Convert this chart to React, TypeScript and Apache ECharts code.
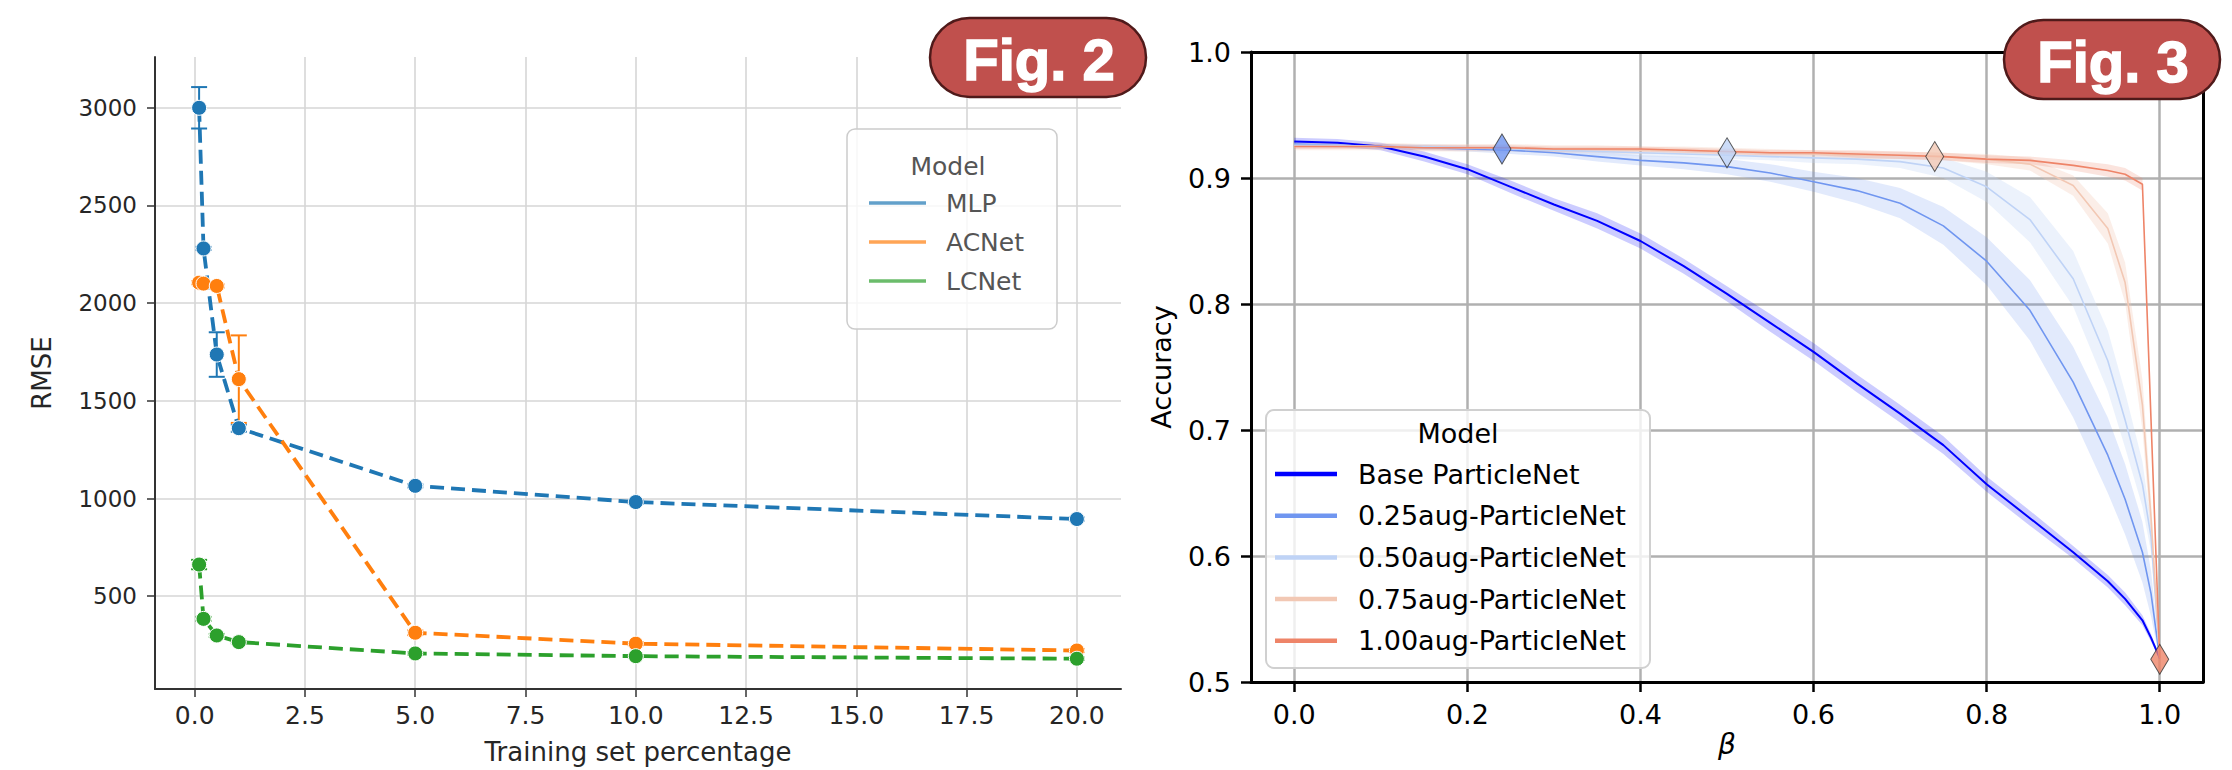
import React, { useEffect, useRef } from 'react';
import * as echarts from 'echarts';

// ---------------- Fig. 2 data ----------------
const trainPct = [0.1, 0.2, 0.5, 1, 5, 10, 20];
const mlpRmse = [3000, 2280, 1737, 1360, 1065, 982, 895];
const mlpErr = [106, 8, 114, 18, 8, 8, 8];
const acnetRmse = [2105, 2100, 2088, 1611, 313, 257, 222];
const acnetErr = [8, 8, 8, 224, 12, 8, 8];
const lcnetRmse = [662, 384, 299, 265, 207, 193, 180];
const lcnetErr = [24, 10, 8, 6, 6, 6, 6];
const rmseTicks = [500, 1000, 1500, 2000, 2500, 3000];
const pctTicks = [0, 2.5, 5, 7.5, 10, 12.5, 15, 17.5, 20];
const fig2Names = ['MLP', 'ACNet', 'LCNet'];

// ---------------- Fig. 3 data ----------------
const beta = [0, 0.05, 0.1, 0.15, 0.2, 0.25, 0.3, 0.35, 0.4, 0.45, 0.5, 0.55, 0.6, 0.65, 0.7, 0.75, 0.8, 0.85, 0.9, 0.94, 0.96, 0.98, 0.99, 1.0];
const baseAcc = [0.929, 0.928, 0.925, 0.917, 0.907, 0.893, 0.879, 0.866, 0.850, 0.830, 0.808, 0.785, 0.762, 0.737, 0.713, 0.688, 0.657, 0.630, 0.603, 0.580, 0.566, 0.549, 0.535, 0.519];
const baseBand = [0.003, 0.003, 0.003, 0.004, 0.004, 0.005, 0.005, 0.006, 0.006, 0.006, 0.006, 0.007, 0.007, 0.007, 0.007, 0.007, 0.006, 0.006, 0.005, 0.005, 0.005, 0.004, 0.003, 0.001];
const aug25Acc = [0.927, 0.926, 0.925, 0.924, 0.923, 0.922, 0.920, 0.917, 0.914, 0.912, 0.909, 0.904, 0.897, 0.890, 0.880, 0.862, 0.834, 0.795, 0.738, 0.680, 0.645, 0.603, 0.570, 0.519];
const aug25Band = [0.002, 0.002, 0.002, 0.002, 0.002, 0.003, 0.003, 0.004, 0.004, 0.005, 0.006, 0.007, 0.008, 0.010, 0.012, 0.015, 0.019, 0.024, 0.028, 0.030, 0.028, 0.024, 0.018, 0.002];
const aug50Acc = [0.926, 0.926, 0.925, 0.925, 0.924, 0.923, 0.922, 0.921, 0.920, 0.919, 0.918, 0.917, 0.916, 0.915, 0.913, 0.908, 0.893, 0.867, 0.820, 0.755, 0.708, 0.657, 0.615, 0.519];
const aug50Band = [0.002, 0.002, 0.002, 0.002, 0.002, 0.002, 0.002, 0.003, 0.003, 0.003, 0.003, 0.003, 0.004, 0.004, 0.005, 0.008, 0.012, 0.018, 0.022, 0.024, 0.022, 0.018, 0.012, 0.002];
const aug75Acc = [0.925, 0.925, 0.925, 0.924, 0.924, 0.924, 0.923, 0.923, 0.922, 0.922, 0.921, 0.920, 0.919, 0.918, 0.918, 0.917, 0.915, 0.911, 0.894, 0.860, 0.817, 0.720, 0.630, 0.519];
const aug75Band = [0.003, 0.003, 0.003, 0.003, 0.003, 0.003, 0.003, 0.003, 0.003, 0.003, 0.003, 0.003, 0.003, 0.003, 0.003, 0.003, 0.004, 0.005, 0.008, 0.012, 0.016, 0.020, 0.015, 0.002];
const aug100Acc = [0.925, 0.925, 0.925, 0.924, 0.924, 0.924, 0.923, 0.923, 0.923, 0.922, 0.921, 0.920, 0.920, 0.919, 0.918, 0.917, 0.915, 0.914, 0.910, 0.906, 0.903, 0.895, 0.707, 0.519];
const aug100Band = [0.002, 0.002, 0.002, 0.002, 0.002, 0.002, 0.002, 0.002, 0.002, 0.002, 0.002, 0.002, 0.002, 0.003, 0.003, 0.003, 0.003, 0.003, 0.004, 0.005, 0.005, 0.005, 0.003, 0.002];
const fig3Names = ['Base ParticleNet', '0.25aug-ParticleNet', '0.50aug-ParticleNet', '0.75aug-ParticleNet', '1.00aug-ParticleNet'];
const markerBeta = [0.24, 0.5, 0.74, 1.0];
const markerAcc = [0.923, 0.920, 0.917, 0.518];
const betaTicks = [0, 0.2, 0.4, 0.6, 0.8, 1.0];

const FIG2_COLORS = ['#1f77b4', '#ff7f0e', '#2ca02c'];
const FIG2_LEGEND = ['rgba(31,119,180,0.7)', 'rgba(255,127,14,0.7)', 'rgba(44,160,44,0.7)'];
const FIG3_COLORS = ['#0000ff', '#7096f0', '#bfd3f6', '#f2c8b4', '#ee8468'];
const FIG3_BANDS = ['rgba(0,0,255,0.2)', 'rgba(112,150,240,0.2)', 'rgba(191,211,246,0.3)', 'rgba(242,200,180,0.3)', 'rgba(238,132,104,0.22)'];
const FONT = 'DejaVu Sans';

function buildOption(): any {
  const fig2Vals = [mlpRmse, acnetRmse, lcnetRmse];
  const fig2Errs = [mlpErr, acnetErr, lcnetErr];
  const fig3Vals = [baseAcc, aug25Acc, aug50Acc, aug75Acc, aug100Acc];
  const fig3Bands = [baseBand, aug25Band, aug50Band, aug75Band, aug100Band];

  const series: any[] = [];

  // Fig.2 error bars
  fig2Names.forEach((n, k) => {
    const color = FIG2_COLORS[k];
    series.push({
      type: 'custom',
      name: n + ' err',
      xAxisIndex: 0,
      yAxisIndex: 0,
      silent: true,
      z: 3,
      data: trainPct.map((x, i) => [x, fig2Vals[k][i] - fig2Errs[k][i], fig2Vals[k][i] + fig2Errs[k][i]]),
      renderItem: (params: any, api: any) => {
        const lo = api.coord([api.value(0), api.value(1)]);
        const hi = api.coord([api.value(0), api.value(2)]);
        const w = 8;
        const st = { stroke: color, lineWidth: 2 };
        return {
          type: 'group',
          children: [
            { type: 'line', shape: { x1: lo[0], y1: lo[1], x2: hi[0], y2: hi[1] }, style: st },
            { type: 'line', shape: { x1: lo[0] - w, y1: lo[1], x2: lo[0] + w, y2: lo[1] }, style: st },
            { type: 'line', shape: { x1: hi[0] - w, y1: hi[1], x2: hi[0] + w, y2: hi[1] }, style: st },
          ],
        };
      },
    });
  });
  // Fig.2 lines
  fig2Names.forEach((n, k) => {
    series.push({
      type: 'line',
      name: n,
      xAxisIndex: 0,
      yAxisIndex: 0,
      z: 4,
      data: trainPct.map((x, i) => [x, fig2Vals[k][i]]),
      symbol: 'circle',
      symbolSize: 15,
      showSymbol: true,
      lineStyle: { color: FIG2_COLORS[k], width: 3.8, type: [14, 7] },
      itemStyle: { color: FIG2_COLORS[k], borderColor: '#ffffff', borderWidth: 1 },
    });
  });

  // Fig.3 bands
  fig3Names.forEach((n, k) => {
    const vals = fig3Vals[k];
    const band = fig3Bands[k];
    series.push({
      type: 'custom',
      name: n + ' band',
      xAxisIndex: 1,
      yAxisIndex: 1,
      silent: true,
      z: 2,
      data: [[0.5, 0.9]],
      renderItem: (params: any, api: any) => {
        const pts: number[][] = [];
        for (let i = 0; i < beta.length; i++) pts.push(api.coord([beta[i], vals[i] + band[i]]));
        for (let i = beta.length - 1; i >= 0; i--) pts.push(api.coord([beta[i], vals[i] - band[i]]));
        return { type: 'polygon', shape: { points: pts }, style: { fill: FIG3_BANDS[k], stroke: 'none' } };
      },
    });
  });
  // Fig.3 lines
  fig3Names.forEach((n, k) => {
    series.push({
      type: 'line',
      name: n,
      xAxisIndex: 1,
      yAxisIndex: 1,
      z: 3,
      data: beta.map((b, i) => [b, fig3Vals[k][i]]),
      showSymbol: false,
      symbol: 'none',
      lineStyle: { color: FIG3_COLORS[k], width: k === 0 ? 2 : 1.6 },
    });
  });
  // Fig.3 diamonds
  series.push({
    type: 'scatter',
    name: 'markers',
    xAxisIndex: 1,
    yAxisIndex: 1,
    z: 6,
    symbol: 'diamond',
    symbolSize: [18, 30],
    data: markerBeta.map((b, i) => ({
      value: [b, markerAcc[i]],
      itemStyle: { color: FIG3_COLORS[i + 1], borderColor: '#333', borderWidth: 1 },
    })),
  });

  const graphic: any[] = [];
  // Fig.2 legend
  graphic.push({
    type: 'rect', z: 100,
    shape: { x: 847, y: 129, width: 210, height: 200, r: 8 },
    style: { fill: 'rgba(255,255,255,0.8)', stroke: '#cccccc', lineWidth: 1.5 },
  });
  graphic.push({
    type: 'text', z: 101, x: 948, y: 166,
    style: { text: 'Model', fill: '#555555', fontSize: 25, fontFamily: FONT, align: 'center', verticalAlign: 'middle' },
  });
  fig2Names.forEach((n, k) => {
    const y = 203 + k * 39;
    graphic.push({ type: 'line', z: 101, shape: { x1: 869, y1: y, x2: 926, y2: y }, style: { stroke: FIG2_LEGEND[k], lineWidth: 3.6 } });
    graphic.push({
      type: 'text', z: 101, x: 946, y: y,
      style: { text: n, fill: '#555555', fontSize: 25, fontFamily: FONT, align: 'left', verticalAlign: 'middle' },
    });
  });
  // Fig.3 legend
  graphic.push({
    type: 'rect', z: 100,
    shape: { x: 1266, y: 410, width: 384, height: 258, r: 8 },
    style: { fill: 'rgba(255,255,255,0.8)', stroke: '#d0d0d0', lineWidth: 2 },
  });
  graphic.push({
    type: 'text', z: 101, x: 1458, y: 433,
    style: { text: 'Model', fill: '#000000', fontSize: 27, fontFamily: FONT, align: 'center', verticalAlign: 'middle' },
  });
  fig3Names.forEach((n, k) => {
    const y = 474 + k * 41.7;
    graphic.push({ type: 'line', z: 101, shape: { x1: 1275, y1: y, x2: 1337, y2: y }, style: { stroke: FIG3_COLORS[k], lineWidth: 4.5 } });
    graphic.push({
      type: 'text', z: 101, x: 1358, y: y,
      style: { text: n, fill: '#000000', fontSize: 27, fontFamily: FONT, align: 'left', verticalAlign: 'middle' },
    });
  });
  // Badges
  const badge = (x: number, y: number, label: string) => {
    graphic.push({
      type: 'rect', z: 110,
      shape: { x, y, width: 216, height: 79, r: 39.5 },
      style: { fill: '#c0504d', stroke: '#4f1a1a', lineWidth: 2.5 },
    });
    graphic.push({
      type: 'text', z: 111, x: x + 109, y: y + 41,
      style: {
        text: label, fill: '#ffffff', stroke: '#ffffff', lineWidth: 1.5,
        fontSize: 58, fontWeight: 'bold', fontFamily: 'Liberation Sans', align: 'center', verticalAlign: 'middle',
      },
    });
  };
  badge(930, 18, 'Fig. 2');
  badge(2004, 20, 'Fig. 3');

  const leftLabel = { color: '#262626', fontSize: 25, fontFamily: FONT };
  const rightLabel = { color: '#000000', fontSize: 27, fontFamily: FONT };

  return {
    animation: false,
    backgroundColor: '#ffffff',
    grid: [
      { left: 155, top: 57, width: 966, height: 632, outerBoundsMode: 'none', containLabel: false },
      { left: 1251, top: 52, width: 952, height: 630, outerBoundsMode: 'none', containLabel: false },
    ],
    xAxis: [
      {
        type: 'value', gridIndex: 0, min: -0.9, max: 21.0,
        name: 'Training set percentage', nameLocation: 'middle', nameGap: 50, nameMoveOverlap: false,
        nameTextStyle: { color: '#262626', fontSize: 26, fontFamily: FONT },
        axisLine: { show: true, onZero: false, lineStyle: { color: '#333333', width: 2 } },
        axisTick: { show: true, length: 8, customValues: pctTicks, lineStyle: { color: '#333333', width: 1.5 } },
        axisLabel: { ...leftLabel, margin: 14, customValues: pctTicks, formatter: (v: number) => v.toFixed(1) },
        splitLine: { show: true, lineStyle: { color: '#d6d6d6', width: 1.6 } },
      },
      {
        type: 'value', gridIndex: 1, min: -0.05, max: 1.05,
        name: 'β', nameLocation: 'middle', nameGap: 48, nameMoveOverlap: false,
        nameTextStyle: { color: '#000000', fontSize: 28, fontStyle: 'italic', fontFamily: FONT },
        axisLine: { show: true, onZero: false, lineStyle: { color: '#000000', width: 3 } },
        axisTick: { show: true, length: 10, customValues: betaTicks, lineStyle: { color: '#000000', width: 2.5 } },
        axisLabel: { ...rightLabel, margin: 19, customValues: betaTicks, formatter: (v: number) => v.toFixed(1) },
        splitLine: { show: true, lineStyle: { color: '#b0b0b0', width: 2.5 } },
      },
      {
        type: 'value', gridIndex: 1, min: -0.05, max: 1.05, position: 'top',
        axisLine: { show: true, onZero: false, lineStyle: { color: '#000000', width: 3 } },
        axisTick: { show: false }, axisLabel: { show: false }, splitLine: { show: false },
      },
    ],
    yAxis: [
      {
        type: 'value', gridIndex: 0, min: 25, max: 3260,
        name: 'RMSE', nameLocation: 'middle', nameGap: 100, nameMoveOverlap: false,
        nameTextStyle: { color: '#262626', fontSize: 26, fontFamily: FONT },
        axisLine: { show: true, onZero: false, lineStyle: { color: '#333333', width: 2 } },
        axisTick: { show: true, length: 8, customValues: rmseTicks, lineStyle: { color: '#333333', width: 1.5 } },
        axisLabel: { ...leftLabel, fontSize: 23, margin: 18, customValues: rmseTicks, formatter: (v: number) => String(Math.round(v)) },
        splitLine: { show: true, lineStyle: { color: '#d6d6d6', width: 1.6 } },
      },
      {
        type: 'value', gridIndex: 1, min: 0.5, max: 1.0, interval: 0.1,
        name: 'Accuracy', nameLocation: 'middle', nameGap: 76, nameMoveOverlap: false,
        nameTextStyle: { color: '#000000', fontSize: 27, fontFamily: FONT },
        axisLine: { show: true, onZero: false, lineStyle: { color: '#000000', width: 3 } },
        axisTick: { show: true, length: 10, lineStyle: { color: '#000000', width: 2.5 } },
        axisLabel: { ...rightLabel, margin: 20, formatter: (v: number) => v.toFixed(1) },
        splitLine: { show: true, showMinLine: false, showMaxLine: false, lineStyle: { color: '#b0b0b0', width: 2.5 } },
      },
      {
        type: 'value', gridIndex: 1, min: 0.5, max: 1.0, position: 'right',
        axisLine: { show: true, onZero: false, lineStyle: { color: '#000000', width: 3 } },
        axisTick: { show: false }, axisLabel: { show: false }, splitLine: { show: false },
      },
    ],
    series,
    graphic,
  };
}

export default function App() {
  const ref = useRef<HTMLDivElement>(null);
  useEffect(() => {
    document.body.style.margin = '0';
    if (!ref.current) return;
    const chart = echarts.init(ref.current, undefined, { renderer: 'svg' });
    chart.setOption(buildOption());
    return () => chart.dispose();
  }, []);
  return <div ref={ref} style={{ width: 2232, height: 770 }} />;
}
